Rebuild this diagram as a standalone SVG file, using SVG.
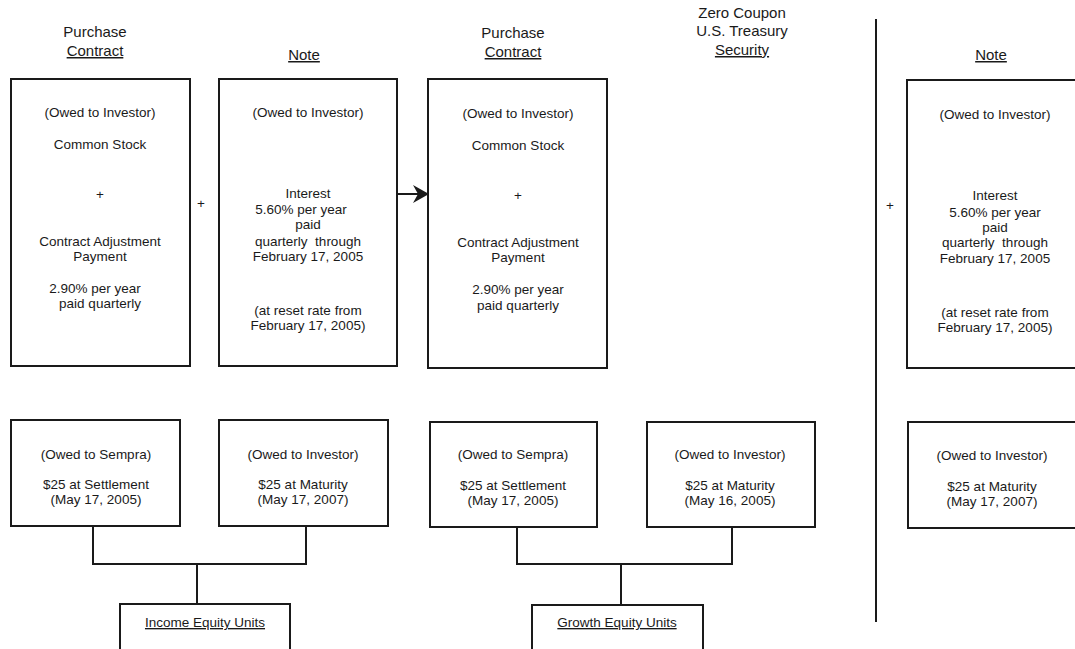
<svg xmlns="http://www.w3.org/2000/svg" width="1075" height="649" viewBox="0 0 1075 649">
<style>
  text { font-family: "Liberation Sans", Arial, sans-serif; fill: #1a1a1a; text-anchor: middle; }
  .b { font-size: 13.5px; }
  .h { font-size: 15px; }
  .u { text-decoration: underline; }
  .box { fill: #fff; stroke: #1a1a1a; stroke-width: 2; }
  .ln { fill: none; stroke: #1a1a1a; stroke-width: 2; }
</style>
<defs>
  <marker id="arr" markerWidth="16" markerHeight="18" refX="15" refY="9" orient="auto" markerUnits="userSpaceOnUse">
    <path d="M0,0 L16,9 L0,18 L5,9 Z" fill="#1a1a1a"/>
  </marker>
</defs>
<rect width="1075" height="649" fill="#fff"/>

<g id="headers">
  <text class="h" x="95" y="37">Purchase</text>
  <text class="h u" x="95" y="56">Contract</text>
  <text class="h u" x="304" y="60">Note</text>
  <text class="h" x="513" y="38">Purchase</text>
  <text class="h u" x="513" y="57">Contract</text>
  <text class="h" x="742" y="18">Zero Coupon</text>
  <text class="h" x="742" y="36">U.S. Treasury</text>
  <text class="h u" x="742" y="55">Security</text>
  <text class="h u" x="991" y="60">Note</text>
</g>

<g id="connectors">
  <line class="ln" x1="397" y1="194" x2="428" y2="194" marker-end="url(#arr)"/>
  <line class="ln" x1="876" y1="19" x2="876" y2="622"/>
  <polyline class="ln" points="93,526 93,564 306,564 306,526"/>
  <line class="ln" x1="197" y1="564" x2="197" y2="604"/>
  <polyline class="ln" points="517,527 517,564 732,564 732,527"/>
  <line class="ln" x1="621" y1="564" x2="621" y2="605"/>
</g>

<g id="plus-signs">
  <text class="b" x="201" y="208">+</text>
  <text class="b" x="890" y="210">+</text>
</g>

<g id="pc1">
  <rect class="box" x="11" y="79" width="179" height="287"/>
  <text class="b" x="100" y="117">(Owed to Investor)</text>
  <text class="b" x="100" y="149">Common Stock</text>
  <text class="b" x="100" y="199">+</text>
  <text class="b" x="100" y="246">Contract Adjustment</text>
  <text class="b" x="100" y="261">Payment</text>
  <text class="b" x="95" y="293">2.90% per year</text>
  <text class="b" x="100" y="308">paid quarterly</text>
</g>

<g id="note1">
  <rect class="box" x="219" y="79" width="178" height="287"/>
  <text class="b" x="308" y="117">(Owed to Investor)</text>
  <text class="b" x="308" y="198">Interest</text>
  <text class="b" x="301" y="214">5.60% per year</text>
  <text class="b" x="308" y="229">paid</text>
  <text class="b" x="308" y="246" xml:space="preserve">quarterly  through</text>
  <text class="b" x="308" y="261">February 17, 2005</text>
  <text class="b" x="308" y="315">(at reset rate from</text>
  <text class="b" x="308" y="330">February 17, 2005)</text>
</g>

<g id="pc2">
  <rect class="box" x="428" y="79" width="179" height="289"/>
  <text class="b" x="518" y="118">(Owed to Investor)</text>
  <text class="b" x="518" y="150">Common Stock</text>
  <text class="b" x="518" y="200">+</text>
  <text class="b" x="518" y="247">Contract Adjustment</text>
  <text class="b" x="518" y="262">Payment</text>
  <text class="b" x="518" y="294">2.90% per year</text>
  <text class="b" x="518" y="310">paid quarterly</text>
</g>

<g id="note2">
  <rect class="box" x="907" y="80" width="180" height="288"/>
  <text class="b" x="995" y="119">(Owed to Investor)</text>
  <text class="b" x="995" y="200">Interest</text>
  <text class="b" x="995" y="217">5.60% per year</text>
  <text class="b" x="995" y="232">paid</text>
  <text class="b" x="995" y="247" xml:space="preserve">quarterly  through</text>
  <text class="b" x="995" y="263">February 17, 2005</text>
  <text class="b" x="995" y="317">(at reset rate from</text>
  <text class="b" x="995" y="332">February 17, 2005)</text>
</g>

<g id="sempra1">
  <rect class="box" x="11" y="420" width="169" height="106"/>
  <text class="b" x="96" y="459">(Owed to Sempra)</text>
  <text class="b" x="96" y="489">$25 at Settlement</text>
  <text class="b" x="96" y="504">(May 17, 2005)</text>
</g>

<g id="investor1">
  <rect class="box" x="219" y="420" width="169" height="106"/>
  <text class="b" x="303" y="459">(Owed to Investor)</text>
  <text class="b" x="303" y="489">$25 at Maturity</text>
  <text class="b" x="303" y="504">(May 17, 2007)</text>
</g>

<g id="income-units">
  <rect class="box" x="120" y="604" width="170" height="60"/>
  <text class="b u" x="205" y="627">Income Equity Units</text>
</g>

<g id="sempra2">
  <rect class="box" x="430" y="422" width="167" height="105"/>
  <text class="b" x="513" y="459">(Owed to Sempra)</text>
  <text class="b" x="513" y="490">$25 at Settlement</text>
  <text class="b" x="513" y="505">(May 17, 2005)</text>
</g>

<g id="treasury">
  <rect class="box" x="647" y="422" width="168" height="105"/>
  <text class="b" x="730" y="459">(Owed to Investor)</text>
  <text class="b" x="730" y="490">$25 at Maturity</text>
  <text class="b" x="730" y="505">(May 16, 2005)</text>
</g>

<g id="growth-units">
  <rect class="box" x="532" y="605" width="171" height="60"/>
  <text class="b u" x="617" y="627">Growth Equity Units</text>
</g>

<g id="investor2">
  <rect class="box" x="908" y="422" width="180" height="106"/>
  <text class="b" x="992" y="460">(Owed to Investor)</text>
  <text class="b" x="992" y="491">$25 at Maturity</text>
  <text class="b" x="992" y="506">(May 17, 2007)</text>
</g>
</svg>
